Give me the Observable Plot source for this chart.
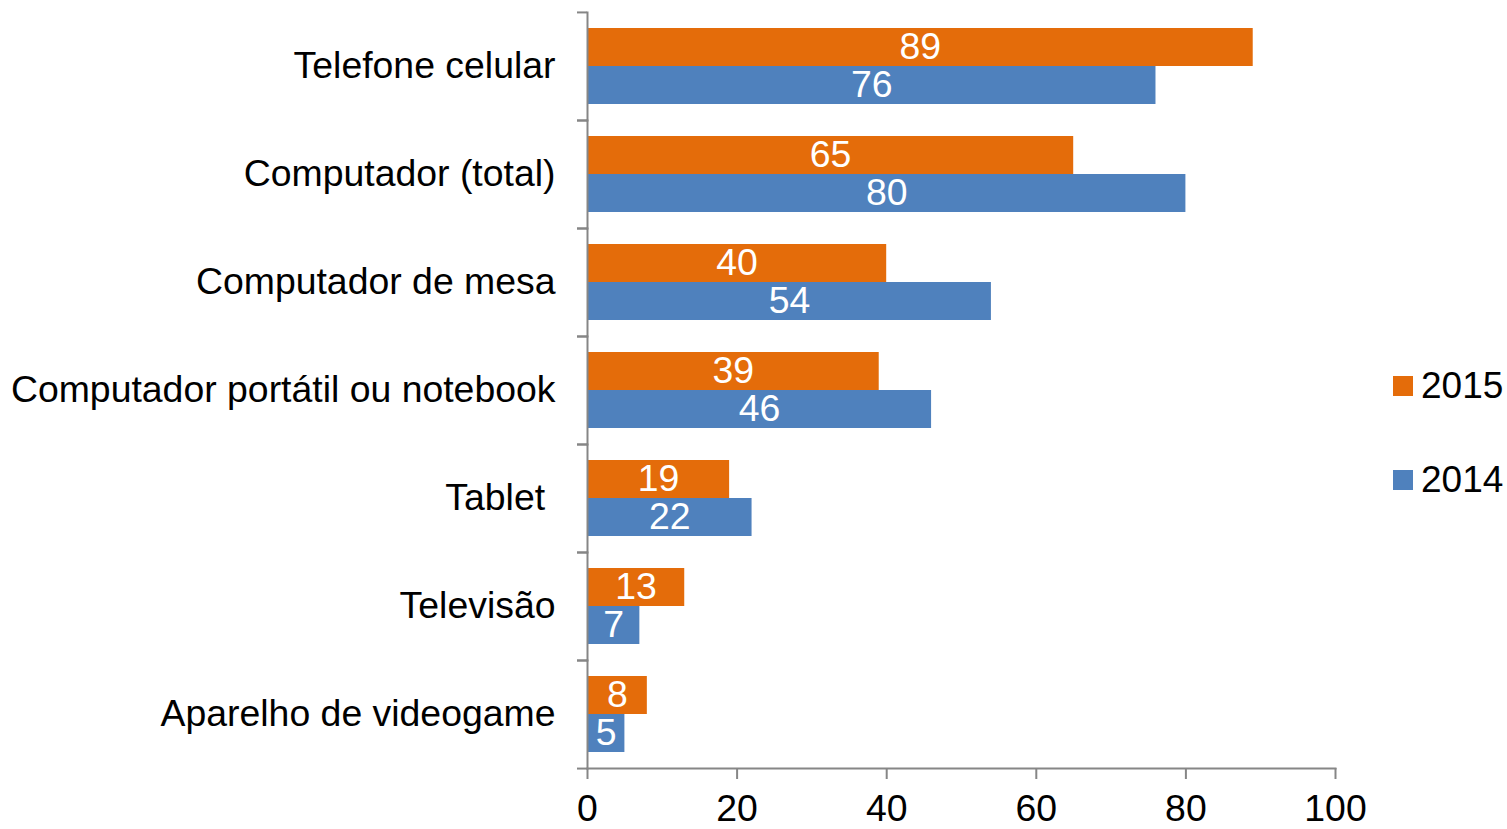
<!DOCTYPE html>
<html>
<head>
<meta charset="utf-8">
<script src="https://cdn.jsdelivr.net/npm/d3@7"></script>
<script src="https://cdn.jsdelivr.net/npm/@observablehq/plot@0.6"></script>
<style>
  html, body { margin: 0; padding: 0; background: white; }
  #wrap { position: relative; width: 1507px; height: 829px; font-family: 'Liberation Sans', Arial, sans-serif; }
  .legend { position: absolute; left: 1393px; display: flex; align-items: center; font-size: 37px; color: black; }
  .legend .sw { width: 20px; height: 20px; margin-right: 8px; }
</style>
</head>
<body>
<div id="wrap"></div>
<script>
const categories = ["Telefone celular", "Computador (total)", "Computador de mesa", "Computador portátil ou notebook", "Tablet\u00a0", "Televisão", "Aparelho de videogame"];
const years = ["2015", "2014"];
const values2015 = [89, 65, 40, 39, 19, 13, 8];
const values2014 = [76, 80, 54, 46, 22, 7, 5];
const colors = ["#E46C0A", "#4F81BD"];
const xTicks = [0, 20, 40, 60, 80, 100];

const data = categories.flatMap((c, i) => [
  {category: c, year: "2015", value: values2015[i]},
  {category: c, year: "2014", value: values2014[i]}
]);

const W = 1507, H = 829, mT = 11, mB = 61;
const band = (H - mT - mB) / categories.length;
const axisGray = "#868686";
const fs = 37.4;

const chart = Plot.plot({
  width: W, height: H,
  marginLeft: 587, marginRight: 172, marginTop: mT, marginBottom: mB,
  style: {fontFamily: "'Liberation Sans', Arial, sans-serif", fontSize: fs + "px", color: "black", background: "white"},
  x: {domain: [0, 100], ticks: xTicks},
  y: {domain: years, paddingInner: 0, paddingOuter: 0.4, axis: null},
  fy: {domain: categories, padding: 0, axis: null},
  color: {domain: years, range: colors},
  marks: [
    Plot.barX(data, {fy: "category", y: "year", x: "value", fill: "year"}),
    Plot.text(data, {fy: "category", y: "year", x: d => d.value / 2, text: d => String(d.value), fill: "white", fontSize: fs}),
    Plot.frame({anchor: "left", stroke: axisGray, strokeWidth: 2}),
    Plot.frame({anchor: "bottom", facetAnchor: "bottom", stroke: axisGray, strokeWidth: 2}),
    Plot.axisFy({anchor: "left", tickSize: 0, tickPadding: 32, fontSize: fs, label: null, fill: "black"}),
    Plot.axisFy({anchor: "left", text: null, tickSize: 10, dy: -band / 2, stroke: axisGray, strokeWidth: 2, label: null}),
    Plot.axisFy({anchor: "left", text: null, tickSize: 10, dy: band / 2, stroke: axisGray, strokeWidth: 2, label: null}),
    Plot.axisX({ticks: xTicks, tickSize: 11, tickPadding: 15, stroke: axisGray, strokeWidth: 2, fill: "black", fontSize: fs, label: null})
  ]
});

const wrap = document.getElementById("wrap");
wrap.appendChild(chart);

const legendTops = [365, 459];
years.forEach((y, i) => {
  const item = document.createElement("div");
  item.className = "legend";
  item.style.top = legendTops[i] + "px";
  const sw = document.createElement("div");
  sw.className = "sw";
  sw.style.background = colors[i];
  const t = document.createElement("span");
  t.textContent = y;
  item.appendChild(sw);
  item.appendChild(t);
  wrap.appendChild(item);
});
</script>
</body>
</html>
